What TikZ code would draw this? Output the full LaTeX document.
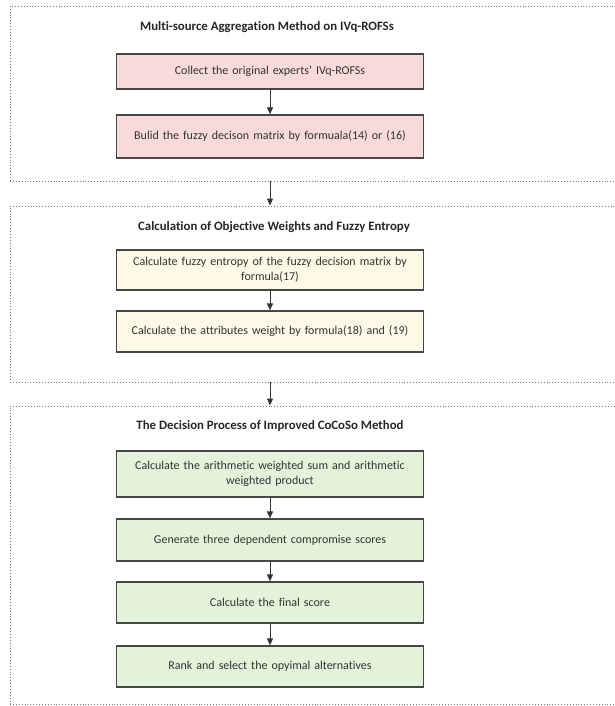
\documentclass[tikz,border=0pt]{standalone}
\usepackage{fontspec}
\setmainfont{Carlito}[Ligatures=NoCommon]
\usetikzlibrary{arrows.meta,calc}
\definecolor{pinkfill}{RGB}{248,218,218}
\definecolor{yellowfill}{RGB}{253,249,230}
\definecolor{greenfill}{RGB}{226,243,217}
\definecolor{boxline}{RGB}{70,70,70}
\definecolor{dotline}{RGB}{120,120,120}
\tikzset{
  stepbox/.style={draw=boxline, line width=1.3pt, minimum width=307pt, text width=296pt, align=center, inner sep=0pt, font=\fontsize{12}{15}\selectfont, text=black!80},
  groupbox/.style={draw=dotline, dotted, line width=0.9pt, inner sep=0pt},
  grouptitle/.style={font=\bfseries\fontsize{12.8}{15}\selectfont, text=black!85},
  flow/.style={-{Triangle[length=7pt,width=6pt]}, line width=0.9pt, draw=black!80, fill=black!80}
}
\begin{document}
\begin{tikzpicture}[x=1pt,y=-1pt]
\useasboundingbox (0,0) rectangle (615,706);
\clip (0,0) rectangle (615,706);
% group frames
\node[groupbox, minimum width=610pt, minimum height=175pt] (g1) at (315,93.5) {};
\node[groupbox, minimum width=610pt, minimum height=176pt] (g2) at (315,294) {};
\node[groupbox, minimum width=610pt, minimum height=298pt] (g3) at (315,555) {};
% titles
\node[grouptitle] (t1) at (267,27) {Multi-source Aggregation Method on IVq-ROFSs};
\node[grouptitle] (t2) at (274,227) {Calculation of Objective Weights and Fuzzy Entropy};
\node[grouptitle] (t3) at (270,426) {The Decision Process of Improved CoCoSo Method};
% steps
\node[stepbox, fill=pinkfill, minimum height=35pt] (b1) at (270,71.5) {Collect the original experts' IVq-ROFSs};
\node[stepbox, fill=pinkfill, minimum height=43pt] (b2) at (270,136.5) {Bulid the fuzzy decison matrix by formuala(14) or (16)};
\node[stepbox, fill=yellowfill, minimum height=40pt] (b3) at (270,270) {Calculate fuzzy entropy of the fuzzy decision matrix by\\ formula(17)};
\node[stepbox, fill=yellowfill, minimum height=41pt] (b4) at (270,331.5) {Calculate the attributes weight by formula(18) and (19)};
\node[stepbox, fill=greenfill, minimum height=46pt] (b5) at (270,474) {Calculate the arithmetic weighted sum and arithmetic\\ weighted product};
\node[stepbox, fill=greenfill, minimum height=42pt] (b6) at (270,540) {Generate three dependent compromise scores};
\node[stepbox, fill=greenfill, minimum height=41pt] (b7) at (270,602.5) {Calculate the final score};
\node[stepbox, fill=greenfill, minimum height=41pt] (b8) at (270,666.5) {Rank and select the opyimal alternatives};
% connectors
\draw[flow] (b1) -- (b2);
\draw[flow] (b3) -- (b4);
\draw[flow] (b5) -- (b6);
\draw[flow] (b6) -- (b7);
\draw[flow] (b7) -- (b8);
\draw[flow] (b2.south |- g1.south) -- (b3.north |- g2.north);
\draw[flow] (b4.south |- g2.south) -- (b5.north |- g3.north);
\end{tikzpicture}
\end{document}
